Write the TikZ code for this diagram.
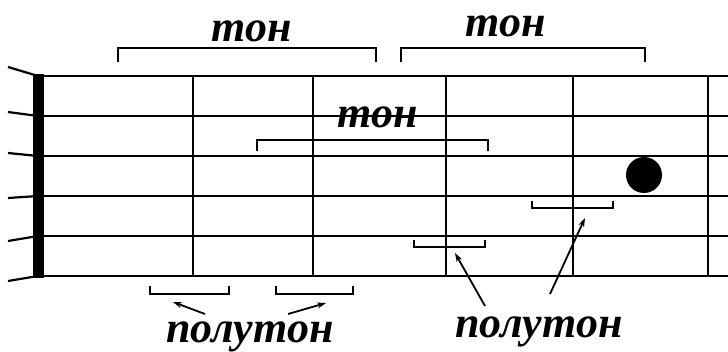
\documentclass[tikz,border=0pt]{standalone}
\usepackage{fontspec}
\setmainfont{Liberation Serif}
\usetikzlibrary{arrows.meta}
\begin{document}
\begin{tikzpicture}[x=1pt,y=-1pt,
  stringline/.style={line width=2.8pt},
  fretline/.style={line width=2.6pt},
  headline/.style={line width=2.2pt},
  brk/.style={line width=2pt},
  lbl/.style={font=\fontsize{44}{44}\selectfont\bfseries\itshape, inner sep=0pt, anchor=base},
  arr/.style={line width=1.8pt,-{Stealth[length=9pt,width=6pt]}}]
\useasboundingbox (0,0) rectangle (728,352);
% strings
\foreach \y/\yl in {76/67,116/112,156/153,196/198,236/241,276/281}{
  \draw[headline] (8,\yl) -- (38,\y);
  \draw[stringline] (38,\y) -- (728,\y);
}
% nut
\fill (33,74) rectangle (44,278);
% frets
\foreach \x in {193,313,446,573,708}{
  \draw[fretline] (\x,76) -- (\x,276);
}
% dot
\fill (644,175) circle (18);
% top brackets
\draw[brk] (118,62) -- (118,48) -- (376,48) -- (376,62);
\draw[brk] (401,62) -- (401,48) -- (645,48) -- (645,62);
\draw[brk] (257,151) -- (257,140) -- (488,140) -- (488,151);
% lower brackets
\draw[brk] (150,286) -- (150,294) -- (229,294) -- (229,286);
\draw[brk] (276,286) -- (276,294) -- (353,294) -- (353,286);
\draw[brk] (414,240) -- (414,247) -- (485,247) -- (485,240);
\draw[brk] (532,201) -- (532,208) -- (613,208) -- (613,201);
% labels
\node[lbl] (t1) at (252,42) {тон};
\node[lbl] (t2) at (506,37) {тон};
\node[lbl] (t3) at (378,128) {тон};
\node[lbl] (p1) at (250,343) {полутон};
\node[lbl] (p2) at (539,338) {полутон};
% arrows
\coordinate (a1s) at (205,314);
\coordinate (a1e) at (173,302);
\coordinate (a2s) at (288,314);
\coordinate (a2e) at (326,303);
\coordinate (a3s) at (485,306);
\coordinate (a3e) at (455,253);
\coordinate (a4s) at (550,294);
\coordinate (a4e) at (585,218);
\draw[arr] (a1s) -- (a1e);
\draw[arr] (a2s) -- (a2e);
\draw[arr] (a3s) -- (a3e);
\draw[arr] (a4s) -- (a4e);
\end{tikzpicture}
\end{document}
